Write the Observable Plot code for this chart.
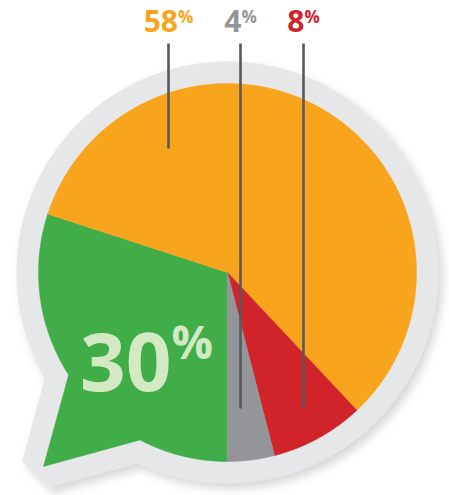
<!DOCTYPE html>
<html><head><meta charset="utf-8">
<script src="https://cdn.jsdelivr.net/npm/d3@7"></script>
<script src="https://cdn.jsdelivr.net/npm/@observablehq/plot@0.6"></script>
<style>body{margin:0;background:#fff}</style>
</head><body><div id="chart"></div>
<script>
// ---- data ----
const categories = ["Green", "Orange", "Red", "Gray"];
const values = [30, 58, 8, 4];
const labels = ["30%", "58%", "8%", "4%"];
const colors = ["#40ad49", "#f8a51d", "#d1232a", "#939598"];

// ---- layout (pixels of the picture) ----
const W = 449, H = 495, cx = 227, cy = 272, R = 189;
const deg = Math.PI / 180;
const tail = {a0: 207.6, a1: 237.2, tip: {x: (43 - cx) / R, y: (cy - 466) / R}};
const leaders = [
  {key: "Orange", px: 168, top: 43, bottom: 148},
  {key: "Gray", px: 240, top: 43, bottom: 408},
  {key: "Red", px: 303, top: 43, bottom: 408}
];
const toX = px => (px - cx) / R, toY = py => (cy - py) / R;

// ---- geometry from the data ----
const arcs = d3.pie().sort(null).startAngle(Math.PI).endAngle(3 * Math.PI)(values);
const pt = a => ({x: Math.sin(a), y: Math.cos(a)});
function arcPts(a0, a1) {
  const n = Math.max(2, Math.ceil((a1 - a0) / (0.5 * deg)));
  return d3.range(n + 1).map(i => pt(a0 + (a1 - a0) * i / n));
}
function arcWithTail(a0, a1) {
  for (const k of [-1, 0, 1, 2]) {
    const t0 = tail.a0 * deg + 2 * Math.PI * k, t1 = tail.a1 * deg + 2 * Math.PI * k;
    if (t0 >= a0 && t1 <= a1) return [...arcPts(a0, t0), tail.tip, ...arcPts(t1, a1)];
  }
  return arcPts(a0, a1);
}
const slicePts = arcs.flatMap((a, i) =>
  [{x: 0, y: 0}, ...arcWithTail(a.startAngle, a.endAngle)].map(p => ({...p, key: categories[i]})));
const outline = arcWithTail(0, 2 * Math.PI);

const topLabels = leaders.map(l => ({key: l.key, x: toX(l.px), y: toY(31), text: labels[categories.indexOf(l.key)]}));
const leaderLines = leaders.map(l => ({x: toX(l.px), y1: toY(l.top), y2: toY(l.bottom)}));
const bigLabel = [{key: "Green", x: toX(146), y: toY(390), text: labels[0]}];

const byColor = {value: "key", scale: "color"};
const font = "'Open Sans', sans-serif";
const plot = Plot.plot({
  width: W, height: H, margin: 0,
  x: {domain: [toX(0), toX(W)], axis: null},
  y: {domain: [toY(H), toY(0)], axis: null},
  color: {type: "ordinal", domain: categories, range: colors},
  style: {background: "#fff"},
  marks: [
    Plot.line(outline, {x: "x", y: "y", curve: "linear-closed", stroke: "#000", fill: "#000",
      strokeOpacity: 0.16, fillOpacity: 0.16, strokeWidth: 44, strokeLinejoin: "miter",
      dx: 4, dy: 5, ariaDescription: "shadow"}),
    Plot.line(outline, {x: "x", y: "y", curve: "linear-closed", stroke: "#e6e7e8", fill: "#e6e7e8",
      strokeWidth: 44, strokeLinejoin: "miter"}),
    Plot.line(slicePts, {x: "x", y: "y", z: "key", fill: byColor, stroke: byColor, strokeWidth: 0.5, curve: "linear-closed"}),
    Plot.link(leaderLines, {x1: "x", x2: "x", y1: "y1", y2: "y2", stroke: "#58595b", strokeWidth: 2.6}),
    Plot.text(topLabels, {x: "x", y: "y", text: "text", fill: byColor, fontSize: 30, fontWeight: "bold",
      fontFamily: font, lineAnchor: "bottom", ariaDescription: "toplabels"}),
    Plot.text(bigLabel, {x: "x", y: "y", text: "text", fill: "#d2e9c3", fontSize: 80, fontWeight: "bold",
      fontFamily: font, lineAnchor: "bottom", ariaDescription: "biglabel"})
  ]
});

const svg = d3.select(plot);
svg.insert("defs", ":first-child").append("filter").attr("id", "blur")
  .attr("x", "-20%").attr("y", "-20%").attr("width", "140%").attr("height", "140%")
  .append("feGaussianBlur").attr("stdDeviation", 5);
svg.select("g[aria-description=shadow]").attr("filter", "url(#blur)");

function supPercent(sel, size, dy) {
  svg.selectAll(`g[aria-description=${sel}] text`).each(function () {
    const m = this.textContent.match(/^(\d+)(%)$/);
    if (!m) return;
    const t = d3.select(this).text("");
    t.append("tspan").text(m[1]);
    t.append("tspan").attr("font-size", size).attr("dy", dy).text(m[2]);
  });
}
supPercent("toplabels", 17, -9);
supPercent("biglabel", 46, -32);

document.getElementById("chart").append(plot);
</script>
</body></html>
